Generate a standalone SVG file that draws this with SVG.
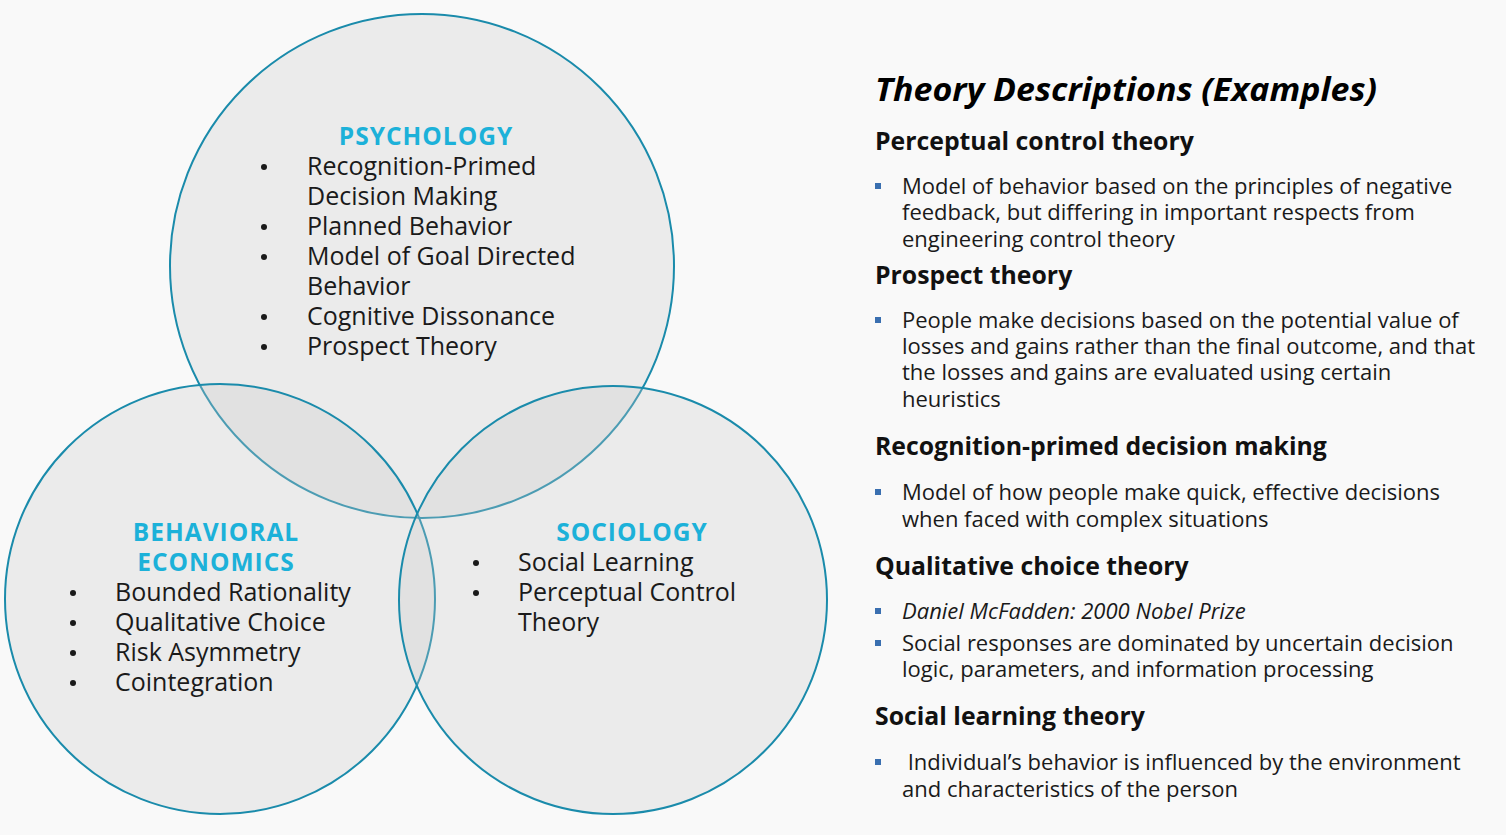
<svg xmlns="http://www.w3.org/2000/svg" width="1506" height="835" viewBox="0 0 1506 835">
<style>
.circ{fill:#c8c8c8;fill-opacity:0.29;stroke:#1a8bab;stroke-width:2}
.hd{font-family:"Open Sans","Liberation Sans",sans-serif;font-weight:700;font-size:24.5px;fill:#1cb1d9;letter-spacing:1px;text-anchor:middle}
.it{font-family:"Open Sans","Liberation Sans",sans-serif;font-size:25px;fill:#1a1a1a}
.bl{fill:#1a1a1a}
.title{font-family:"Open Sans","Liberation Sans",sans-serif;font-weight:700;font-style:italic;font-size:32px;fill:#000}
.h2{font-family:"Open Sans","Liberation Sans",sans-serif;font-weight:700;font-size:24.8px;fill:#111}
.tx{font-family:"Open Sans","Liberation Sans",sans-serif;font-size:22px;fill:#1a1a1a}
.sq{fill:#3a6fb0}
</style>
<rect width="1506" height="835" fill="#f9f9f9"/>
<g id="psychology">
<circle class="circ" cx="422" cy="266" r="252"/>
<text class="hd" x="426" y="145">PSYCHOLOGY</text>
<circle class="bl" cx="264" cy="167" r="3"/>
<circle class="bl" cx="264" cy="227" r="3"/>
<circle class="bl" cx="264" cy="257" r="3"/>
<circle class="bl" cx="264" cy="317" r="3"/>
<circle class="bl" cx="264" cy="347" r="3"/>
<text class="it" x="307" y="175">Recognition-Primed</text>
<text class="it" x="307" y="205">Decision Making</text>
<text class="it" x="307" y="235">Planned Behavior</text>
<text class="it" x="307" y="265">Model of Goal Directed</text>
<text class="it" x="307" y="295">Behavior</text>
<text class="it" x="307" y="325">Cognitive Dissonance</text>
<text class="it" x="307" y="355">Prospect Theory</text>
</g>
<g id="behavioral-economics">
<circle class="circ" cx="220" cy="599" r="215"/>
<text class="hd" x="216" y="541">BEHAVIORAL</text>
<text class="hd" x="216" y="571">ECONOMICS</text>
<circle class="bl" cx="73" cy="593" r="3"/>
<circle class="bl" cx="73" cy="623" r="3"/>
<circle class="bl" cx="73" cy="653" r="3"/>
<circle class="bl" cx="73" cy="683" r="3"/>
<text class="it" x="115" y="601">Bounded Rationality</text>
<text class="it" x="115" y="631">Qualitative Choice</text>
<text class="it" x="115" y="661">Risk Asymmetry</text>
<text class="it" x="115" y="691">Cointegration</text>
</g>
<g id="sociology">
<circle class="circ" cx="613" cy="600" r="214"/>
<text class="hd" x="632" y="541">SOCIOLOGY</text>
<circle class="bl" cx="476" cy="563" r="3"/>
<circle class="bl" cx="476" cy="593" r="3"/>
<text class="it" x="518" y="571">Social Learning</text>
<text class="it" x="518" y="601">Perceptual Control</text>
<text class="it" x="518" y="631">Theory</text>
</g>
<g id="descriptions">
<text class="title" x="875" y="101" textLength="502" lengthAdjust="spacingAndGlyphs">Theory Descriptions (Examples)</text>
<text class="h2" x="875" y="150">Perceptual control theory</text>
<rect class="sq" x="875" y="183" width="6" height="6"/>
<text class="tx" x="902" y="194">Model of behavior based on the principles of negative</text>
<text class="tx" x="902" y="220">feedback, but differing in important respects from</text>
<text class="tx" x="902" y="247">engineering control theory</text>
<text class="h2" x="875" y="284">Prospect theory</text>
<rect class="sq" x="875" y="317" width="6" height="6"/>
<text class="tx" x="902" y="328">People make decisions based on the potential value of</text>
<text class="tx" x="902" y="354">losses and gains rather than the final outcome, and that</text>
<text class="tx" x="902" y="380">the losses and gains are evaluated using certain</text>
<text class="tx" x="902" y="407">heuristics</text>
<text class="h2" x="875" y="455">Recognition-primed decision making</text>
<rect class="sq" x="875" y="489" width="6" height="6"/>
<text class="tx" x="902" y="500">Model of how people make quick, effective decisions</text>
<text class="tx" x="902" y="527">when faced with complex situations</text>
<text class="h2" x="875" y="575">Qualitative choice theory</text>
<rect class="sq" x="875" y="608" width="6" height="6"/>
<text class="tx" x="902" y="619" font-style="italic">Daniel McFadden: 2000 Nobel Prize</text>
<rect class="sq" x="875" y="640" width="6" height="6"/>
<text class="tx" x="902" y="651">Social responses are dominated by uncertain decision</text>
<text class="tx" x="902" y="677">logic, parameters, and information processing</text>
<text class="h2" x="875" y="725">Social learning theory</text>
<rect class="sq" x="875" y="759" width="6" height="6"/>
<text class="tx" x="902" y="770" xml:space="preserve"> Individual’s behavior is influenced by the environment</text>
<text class="tx" x="902" y="797">and characteristics of the person</text>
</g>
</svg>
